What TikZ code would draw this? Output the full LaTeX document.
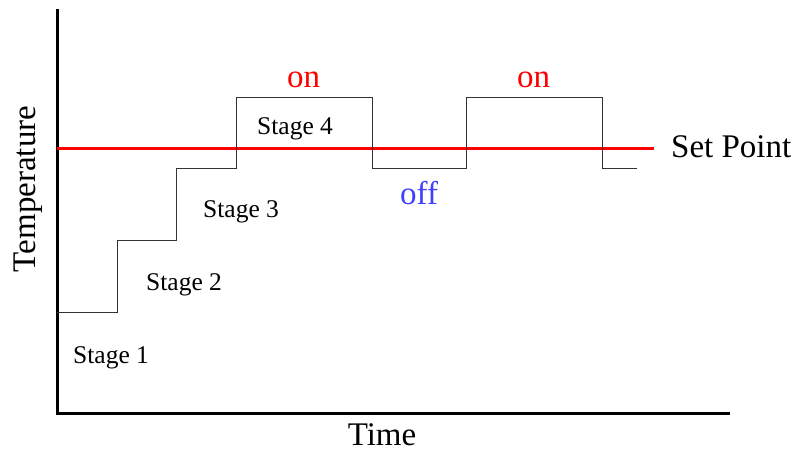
\documentclass[tikz,border=0pt]{standalone}
\usepackage{fontspec}
\setmainfont{Liberation Serif}
\definecolor{offblue}{RGB}{64,64,255}
\begin{document}
\begin{tikzpicture}[x=1pt,y=-1pt,
  axis/.style={line width=3pt},
  stepline/.style={line width=1pt,black!80},
  setline/.style={line width=3pt,red},
  big/.style={font=\fontsize{33}{36}\selectfont,inner sep=0pt,anchor=base west},
  stagelbl/.style={font=\fontsize{25.5}{28}\selectfont,inner sep=0pt,anchor=base west}]
\useasboundingbox (0,0) rectangle (798,450);
% axes
\coordinate (top) at (57,9);
\coordinate (orig) at (57,413);
\coordinate (xend) at (730,413);
\draw[axis] (top) -- (orig) -- (xend);
% set point line
\coordinate (spA) at (57,148);
\coordinate (spB) at (654,148);
\draw[setline] (spA) -- (spB);
% staircase
\coordinate (s0) at (57,312);
\coordinate (s1) at (117,312);
\coordinate (s2) at (117,240);
\coordinate (s3) at (176,240);
\coordinate (s4) at (176,168);
\coordinate (s5) at (236,168);
\coordinate (s6) at (236,97);
\coordinate (s7) at (372,97);
\coordinate (s8) at (372,168);
\coordinate (s9) at (466,168);
\coordinate (s10) at (466,97);
\coordinate (s11) at (602,97);
\coordinate (s12) at (602,168);
\coordinate (s13) at (637,168);
\draw[stepline] (s0) -- (s1) -- (s2) -- (s3) -- (s4) -- (s5) -- (s6) -- (s7) -- (s8) -- (s9) -- (s10) -- (s11) -- (s12) -- (s13);
% labels
\node[stagelbl] (st1) at (73,363) {Stage 1};
\node[stagelbl] (st2) at (146,290) {Stage 2};
\node[stagelbl] (st3) at (203,217) {Stage 3};
\node[stagelbl] (st4) at (257,134) {Stage 4};
\node[big,red] (on1) at (287,87) {on};
\node[big,red] (on2) at (517,87) {on};
\node[big,offblue] (off) at (400,204) {off};
\node[big] (sp) at (671,157) {Set Point};
\node[big,anchor=base] (time) at (382,445) {Time};
\node[big,anchor=base,rotate=90] (temp) at (35,189) {Temperature};
\end{tikzpicture}
\end{document}
